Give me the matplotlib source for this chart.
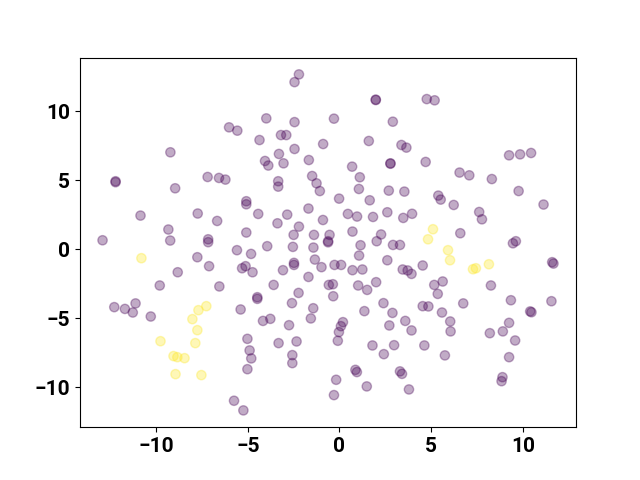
import numpy as np
import matplotlib
matplotlib.use("Agg")
import matplotlib.pyplot as plt

plt.rcParams['font.family'] = ['Roboto', 'DejaVu Sans']
plt.rcParams['font.weight'] = 'bold'

# cluster 1 (yellow)
x_yellow = [-10.80, -7.26, -7.69, -8.02, -7.75, -7.86, -9.76, -9.05, -8.84, -8.45,
            -8.94, -7.53, 5.10, 4.83, 5.92, 6.03, 7.28, 7.44, 8.15]
y_yellow = [-0.65, -4.13, -4.42, -5.07, -5.87, -6.81, -6.67, -7.75, -7.83, -7.90,
            -9.06, -9.13, 1.45, 0.72, -0.07, -0.80, -1.45, -1.38, -1.09]

# cluster 0 (purple)
x_purple = [
    -12.92, -12.21, -12.21, -9.22, -8.96, -7.19, -6.57, -6.22, -6.02, -5.57,
    -5.08, -5.08, -10.85, -7.73, -6.67, -9.33, -9.23, -7.16, -7.16, -5.08,
    -5.59, -5.12, -5.31, -7.75, -7.11, -8.82, -9.80, -6.55, -12.28, -11.70,
    -11.12, -11.27, -10.29, -5.39, -5.02, -4.90, -4.81, -5.02, -5.75, -5.24,
    -2.21, -2.45, 1.98, 1.98, -3.99, -2.45, -0.30, 2.91, -4.36, -3.19,
    -2.90, -0.89, -2.45, 1.60, 3.38, 3.65, -3.30, -4.06, -3.88, -3.05,
    -1.67, 0.69, 2.78, 2.78, -3.34, -3.34, -1.49, -1.25, -1.07, 1.11,
    1.06, 2.69, 3.54, -0.02, 1.65, -4.43, -2.85, -1.69, -0.90, 0.46,
    0.96, 1.83, 2.61, 3.48, 3.96, -3.38, -2.21, -2.50, -1.39, -0.54,
    0.71, 2.27, 2.03, -0.62, -0.62, -3.94, 1.15, 2.92, 3.30, -2.54,
    -1.42,
    -4.82, -4.74, -2.48, -2.48, -1.34, -0.98, 1.07, -3.08, -0.27, 0.09,
    0.71, 1.25, 2.61, 3.45, 3.72, 3.93, -1.69, -3.59, -0.58, -0.36,
    1.02, 1.51, 2.00, -0.34, -4.48, -4.48, -2.23, -2.59, -1.43, -1.56,
    1.36, 2.40, 2.89, 3.59, 3.93, -4.17, -3.77, -2.75, 0.19, 0.08,
    -0.03, -0.09, 2.72, -3.32, -2.34, -2.57, -2.57, 1.80, 2.42, 2.98,
    0.87, 0.95, 3.30, 3.41, 3.79, -0.18, 1.49, -0.30,
    4.76, 5.19, 4.70, 9.25, 9.85, 10.45, 6.55, 7.08, 8.31, 9.77,
    11.13, 5.39, 5.52, 6.23, 7.62, 7.77, 6.59, 9.46, 9.62,
    11.60, 11.67, 4.54, 5.17, 5.63, 5.36, 8.26, 4.54, 4.85, 5.59,
    6.75, 9.35, 11.56, 10.40, 10.47, 6.04, 6.06, 8.20, 8.91, 9.25,
    9.58, 4.63, 5.75, 9.25, 8.89, 8.84,
]
y_purple = [
    0.65, 4.93, 4.86, 7.03, 4.42, 5.24, 5.17, 5.05, 8.84, 8.60,
    3.48, 3.26, 2.44, 2.59, 2.05, 1.43, 0.63, 0.72, 0.51, 1.21,
    -0.07, -1.23, -1.38, -0.58, -1.23, -1.67, -2.63, -2.70, -4.20, -4.33,
    -3.93, -4.59, -4.88, -4.37, -6.50, -7.34, -7.92, -8.70, -10.99, -11.69,
    12.68, 12.12, 10.82, 10.85, 9.49, 9.22, 9.47, 9.25, 7.92, 8.28,
    8.28, 7.63, 7.27, 7.85, 7.56, 7.37, 6.91, 6.40, 6.07, 6.23,
    6.47, 5.99, 6.23, 6.20, 4.93, 4.54, 5.31, 4.78, 4.22, 5.22,
    4.37, 4.25, 4.18, 3.67, 3.55, 2.56, 2.51, 2.95, 2.12, 2.56,
    2.37, 2.34, 2.68, 2.27, 2.57, 1.88, 1.64, 1.04, 1.04, 1.04,
    1.28, 1.07, 0.58, 0.58, 0.50, 0.22, 0.29, 0.31, 0.31, 0.17,
    0.12,
    -0.34, -1.67, -0.99, -1.14, -0.75, -1.30, -0.46, -1.52, -1.14, -1.14,
    -1.52, -1.47, -0.80, -1.47, -1.54, -1.79, -2.01, -2.59, -2.59, -2.54,
    -2.63, -2.95, -2.39, -3.41, -3.48, -3.60, -3.17, -3.91, -4.28, -5.02,
    -4.49, -3.91, -4.62, -5.20, -5.89, -5.20, -5.05, -5.51, -5.29, -5.58,
    -6.01, -6.64, -5.53, -6.81, -6.69, -7.68, -8.26, -6.98, -7.61, -6.96,
    -8.75, -8.91, -8.86, -9.04, -10.17, -9.47, -9.95, -10.58,
    10.89, 10.80, 6.33, 6.81, 6.88, 6.98, 5.56, 5.36, 5.09, 4.22,
    3.24, 3.89, 3.60, 3.21, 2.70, 2.17, 1.16, 0.43, 0.58,
    -0.94, -1.04, -1.18, -2.59, -2.34, -3.24, -2.63, -4.13, -4.15, -4.59,
    -3.93, -3.70, -3.77, -4.51, -4.57, -5.24, -5.96, -6.09, -5.96, -5.34,
    -6.62, -6.98, -7.70, -7.83, -9.28, -9.57,
]

x = np.array(x_purple + x_yellow)
y = np.array(y_purple + y_yellow)
labels = np.array([0] * len(x_purple) + [1] * len(x_yellow))

fig, ax = plt.subplots(figsize=(6.4, 4.8), dpi=100)
ax.scatter(x, y, c=labels, cmap='viridis', alpha=0.33, s=45)
ax.tick_params(labelsize=15)
for lbl in ax.get_xticklabels() + ax.get_yticklabels():
    lbl.set_fontweight('bold')
fig.savefig('out.png', dpi=100)
